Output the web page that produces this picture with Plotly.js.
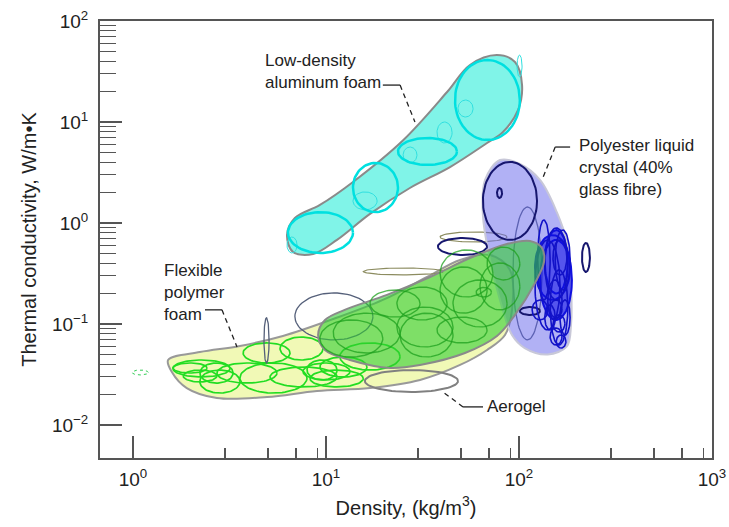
<!DOCTYPE html>
<html><head><meta charset="utf-8">
<script src="https://cdn.plot.ly/plotly-3.0.1.min.js"></script>
<style>html,body{margin:0;padding:0;background:#fff}#chart{width:729px;height:527px}</style>
</head><body><div id="chart"></div>
<script>
// ---------- Envelopes (density kg/m3, conductivity W/m.K) ----------
const alFoamEnvRho = [6.28, 6.9, 9.3, 13.8, 25.1, 42.4, 55.7, 76.9, 95.3, 103.7, 98.8, 82.6, 68.3, 43.9, 27.2, 16.9, 11.4, 8.57, 6.75];
const alFoamEnvK   = [0.76, 1.12, 1.51, 2.55, 6.6, 19.8, 36.7, 46, 39.3, 23.2, 13.1, 7.96, 6.2, 3.58, 2.22, 1.23, 0.68, 0.493, 0.516];

const flexEnvRho = [1.52, 2.22, 3.58, 5.98, 10.9, 19.7, 33.4, 49.5, 70.8, 89.8, 92, 84.6, 68.3, 49.5, 30.7, 16.9, 8.98, 4.95, 2.72, 1.9, 1.59];
const flexEnvK   = [0.044, 0.0528, 0.0606, 0.076, 0.112, 0.173, 0.292, 0.43, 0.482, 0.343, 0.138, 0.0778, 0.0553, 0.0393, 0.0279, 0.0232, 0.0217, 0.0189, 0.0185, 0.0232, 0.0335];

const rigidEnvRho = [9.1, 9.88, 12.5, 20.7, 34.6, 55.7, 86.7, 114, 131.6, 134.8, 121, 95.3, 76.9, 52.5, 30.7, 21.5, 13.3, 9.88];
const rigidEnvK   = [0.0778, 0.1096, 0.138, 0.194, 0.292, 0.45, 0.62, 0.664, 0.565, 0.411, 0.255, 0.123, 0.076, 0.0516, 0.0393, 0.0367, 0.044, 0.0553];

const lcpEnvRho = [79.7, 101, 128.5, 157, 177, 186, 186, 177, 141, 107, 92, 79.7, 70.8, 65, 66.7];
const lcpEnvK   = [4.2, 3.84, 2.67, 1.28, 0.649, 0.243, 0.0977, 0.0600, 0.0500, 0.0578, 0.0778, 0.173, 0.43, 1.2, 2.67];

// ---------- Material bubbles: [rho min, rho max, k min, k max] ----------
const alBubRhoMin = [6.35, 13.8, 23.6, 46.6];
const alBubRhoMax = [13.8, 23.6, 47.7, 101];
const alBubKMin   = [0.505, 1.28, 3.75, 6.63];
const alBubKMax   = [1.28, 3.93, 6.95, 41.1];

const alThinRhoMin = [13.8, 25.1, 37.6, 48.3, 97.7, 6.28];
const alThinRhoMax = [18.4, 29.6, 45.0, 57.8, 103.7, 7.08];
const alThinKMin   = [1.35, 3.93, 6.2, 11.2, 27.9, 0.505];
const alThinKMax   = [2.03, 5.65, 10.0, 16.5, 46.0, 0.726];

const flexRhoMin = [1.61, 2.22, 2.72, 3.58, 3.72, 5.78, 5.13, 7.6, 8.26, 1.82, 2.22, 7.97, 1.61, 9.3, 11.8];
const flexRhoMax = [3.18, 3.3, 5.57, 7.97, 6.51, 9.65, 11.4, 13.3, 15.6, 2.72, 3.58, 11.4, 2.42, 16.3, 24.2];
const flexKMin   = [0.0299, 0.026, 0.026, 0.0207, 0.0411, 0.044, 0.0238, 0.0279, 0.0238, 0.0267, 0.0207, 0.0279, 0.0327, 0.0299, 0.035];
const flexKMax   = [0.044, 0.0411, 0.0411, 0.0411, 0.0649, 0.0743, 0.0375, 0.0411, 0.035, 0.035, 0.035, 0.044, 0.0411, 0.0471, 0.0649];

const rigidRhoMin = [9.3, 24.2, 23.3, 39, 45.5, 37.6, 62.8, 16.9, 23.3, 39, 10.9, 68.3, 60];
const rigidRhoMax = [19.7, 45.5, 42.4, 73.3, 86.7, 68.3, 101, 30.7, 45.5, 68.3, 24.2, 101, 72];
const rigidKMin   = [0.0471, 0.0471, 0.1096, 0.185, 0.0934, 0.0649, 0.138, 0.117, 0.0592, 0.128, 0.0516, 0.273, 0.185];
const rigidKMax   = [0.1096, 0.128, 0.232, 0.541, 0.273, 0.117, 0.402, 0.217, 0.147, 0.367, 0.128, 0.578, 0.23];

// polyester LCP grades (outlined)
const lcpRhoMin = [125, 136, 121, 145, 154, 145, 150, 145, 156, 136, 163, 117, 141, 150];
const lcpRhoMax = [145, 179, 163, 179, 184, 167, 173, 167, 175, 154, 184, 141, 167, 177];
const lcpKMin   = [0.173, 0.173, 0.0872, 0.0619, 0.217, 0.115, 0.0833, 0.0619, 0.0578, 0.0872, 0.0778, 0.1096, 0.1096, 0.306];
const lcpKMax   = [1.07, 0.892, 0.679, 0.343, 0.853, 0.173, 0.123, 0.0913, 0.0778, 0.154, 0.173, 0.173, 0.273, 0.679];
// densely overlapping LCP grades (filled core)
const lcpCoreRhoMin = [121, 136, 128.5];
const lcpCoreRhoMax = [184, 179, 188];
const lcpCoreKMin   = [0.173, 0.2, 0.1096];
const lcpCoreKMax   = [0.76, 0.85, 0.679];

// navy (dark) bubbles
const navyRhoMin = [65, 38.0, 76.9, 212, 101];
const navyRhoMax = [124, 68.3, 81.7, 233, 128.5];
const navyKMin   = [0.679, 0.482, 1.77, 0.327, 0.123];
const navyKMax   = [4.02, 0.71, 2.22, 0.634, 0.147];

// thin slate / olive bubbles
const slateRhoMin = [6.9, 4.77, 93];
const slateRhoMax = [17.5, 5.07, 131.6];
const slateKMin   = [0.0695, 0.0411, 0.0695];
const slateKMax   = [0.203, 0.115, 1.44];

const oliveRhoMin = [39, 15.6];
const oliveRhoMax = [86.7, 40.4];
const oliveKMin   = [0.649, 0.306];
const oliveKMax   = [0.815, 0.358];

const aerogelRho = [15.9, 48.3];
const aerogelK   = [0.0212, 0.035];

const lowFoamRho = [0.99, 1.2];
const lowFoamK   = [0.0313, 0.035];

// ---------- Labels and leaders ----------
const labelTexts = ['Low-density<br>aluminum foam', 'Flexible<br>polymer<br>foam', 'Polyester liquid<br>crystal (40%<br>glass fibre)', 'Aerogel'];
const labelRho = [4.72, 1.41, 200, 66.7];
const labelK   = [31.3, 0.207, 3.58, 0.0151];
const leaderSolidRho = [[19.7, 24.2], [2.36, 2.89], [184, 154], [65.1, 51.3]];
const leaderSolidK   = [[23.2, 23.2], [0.138, 0.138], [5.65, 5.65], [0.0151, 0.0151]];
const leaderDashRho  = [[24.2, 28.9], [2.89, 3.46], [154, 131.6], [51.3, 40.4]];
const leaderDashK    = [[23.2, 10.0], [0.138, 0.0592], [5.65, 2.67], [0.0151, 0.0212]];

const xTickVals = [1, 10, 100, 1000];
const xTickText = ['10<sup>0</sup>', '10<sup>1</sup>', '10<sup>2</sup>', '10<sup>3</sup>'];
const yTickVals = [0.01, 0.1, 1, 10, 100];
const yTickText = ['10<sup>\u22122</sup>', '10<sup>\u22121</sup>', '10<sup>0</sup>', '10<sup>1</sup>', '10<sup>2</sup>'];

// ---------- helpers ----------
function ellipsePts(x0, x1, y0, y1) {
  const lx0 = Math.log10(x0), lx1 = Math.log10(x1), ly0 = Math.log10(y0), ly1 = Math.log10(y1);
  const cx = (lx0 + lx1) / 2, ax = (lx1 - lx0) / 2, cy = (ly0 + ly1) / 2, ay = (ly1 - ly0) / 2;
  const xs = [], ys = [];
  const N = 72;
  for (let i = 0; i <= N; i++) {
    const t = 2 * Math.PI * i / N;
    xs.push(Math.pow(10, cx + ax * Math.cos(t)));
    ys.push(Math.pow(10, cy + ay * Math.sin(t)));
  }
  return [xs, ys];
}
function bubbleTrace(x0s, x1s, y0s, y1s, color, width, fillcolor, dash) {
  let X = [], Y = [];
  for (let i = 0; i < x0s.length; i++) {
    const [xs, ys] = ellipsePts(x0s[i], x1s[i], y0s[i], y1s[i]);
    X = X.concat(xs, [null]); Y = Y.concat(ys, [null]);
  }
  const tr = {x: X, y: Y, type: 'scatter', mode: 'lines', hoverinfo: 'skip',
    line: {color: color, width: width, dash: dash || 'solid'}};
  if (fillcolor) { tr.fill = 'toself'; tr.fillcolor = fillcolor; }
  return tr;
}
function envTrace(xs, ys, fillcolor, linecolor) {
  return {x: xs.concat([xs[0]]), y: ys.concat([ys[0]]), type: 'scatter', mode: 'lines', hoverinfo: 'skip',
    fill: 'toself', fillcolor: fillcolor, line: {color: linecolor, width: 2, shape: 'spline', smoothing: 1}};
}

const traces = [];
traces.push(envTrace(alFoamEnvRho, alFoamEnvK, '#80f4e8', '#8a8a8a'));
traces.push(bubbleTrace(alThinRhoMin, alThinRhoMax, alThinKMin, alThinKMax, '#30e0e0', 1));
traces.push(bubbleTrace(alBubRhoMin, alBubRhoMax, alBubKMin, alBubKMax, '#00e0e0', 2.5));

traces.push(envTrace(flexEnvRho, flexEnvK, '#f1f9b6', '#999999'));
traces.push(bubbleTrace(flexRhoMin, flexRhoMax, flexKMin, flexKMax, '#22dd22', 1.7));
traces.push(bubbleTrace(lowFoamRho.slice(0,1), lowFoamRho.slice(1), lowFoamK.slice(0,1), lowFoamK.slice(1), '#33cc55', 1, null, 'dot'));

traces.push(bubbleTrace(oliveRhoMin, oliveRhoMax, oliveKMin, oliveKMax, '#8c8c60', 1.2));
traces.push(bubbleTrace(slateRhoMin, slateRhoMax, slateKMin, slateKMax, '#55607a', 1.3));

traces.push(envTrace(lcpEnvRho, lcpEnvK, 'rgba(100,100,235,0.5)', '#c8c8d8'));
traces.push(bubbleTrace(navyRhoMin, navyRhoMax, navyKMin, navyKMax, '#16166e', 2));
traces.push(bubbleTrace(lcpCoreRhoMin, lcpCoreRhoMax, lcpCoreKMin, lcpCoreKMax, '#1010e0', 2, 'rgba(10,10,230,0.55)'));
traces.push(bubbleTrace(lcpRhoMin, lcpRhoMax, lcpKMin, lcpKMax, '#1212c8', 1.6));

traces.push(envTrace(rigidEnvRho, rigidEnvK, 'rgba(50,205,50,0.6)', '#8a8a8a'));
traces.push(bubbleTrace(rigidRhoMin, rigidRhoMax, rigidKMin, rigidKMax, 'rgba(30,160,30,0.75)', 1.4));

traces.push(bubbleTrace([aerogelRho[0]], [aerogelRho[1]], [aerogelK[0]], [aerogelK[1]], '#808080', 2));

for (let i = 0; i < leaderSolidRho.length; i++) {
  traces.push({x: leaderSolidRho[i], y: leaderSolidK[i], type: 'scatter', mode: 'lines', hoverinfo: 'skip', line: {color: '#222', width: 1.3}});
  traces.push({x: leaderDashRho[i], y: leaderDashK[i], type: 'scatter', mode: 'lines', hoverinfo: 'skip', line: {color: '#222', width: 1.3, dash: '5px,4px'}});
}

// minor ticks
const decadesX = [1, 10, 100];
const xMinorOdd = [], xMinorEven = [];
decadesX.forEach(d => { for (let m = 2; m <= 9; m++) { (m % 2 ? xMinorOdd : xMinorEven).push(m * d); } });
const yMinor = [];
[0.01, 0.1, 1, 10].forEach(d => { for (let m = 2; m <= 9; m++) yMinor.push(m * d); });

const xRange = [-0.171, 3.0];
const axColor = '#555555';
const font = 'Liberation Sans, Arial, sans-serif';

const annotations = labelTexts.map((t, i) => ({
  text: t, x: Math.log10(labelRho[i]), y: Math.log10(labelK[i]), xref: 'x', yref: 'y',
  xanchor: 'left', yanchor: 'middle', align: 'left', showarrow: false,
  font: {family: font, size: 17, color: '#222'}
}));

const layout = {
  width: 729, height: 527,
  margin: {l: 100, r: 17, t: 21, b: 69},
  paper_bgcolor: '#fff', plot_bgcolor: '#fff',
  showlegend: false, hovermode: false,
  font: {family: font, color: '#222'},
  xaxis: {
    type: 'log', range: xRange, autorange: false,
    tickvals: xTickVals, ticktext: xTickText,
    ticks: 'inside', ticklen: 22, tickwidth: 1.5, tickcolor: axColor,
    showline: true, linecolor: axColor, linewidth: 2, mirror: true,
    showgrid: false, zeroline: false,
    tickfont: {size: 19, color: '#222'}, ticklabelstandoff: 3,
    minor: {tickvals: xMinorOdd, ticks: 'inside', ticklen: 10, tickwidth: 1.3, tickcolor: axColor, showgrid: false},
    title: {text: 'Density, (kg/m<sup>3</sup>)', font: {size: 20, color: '#222'}, standoff: 12}
  },
  xaxis2: {
    type: 'log', range: xRange, autorange: false, overlaying: 'x', anchor: 'y', side: 'bottom',
    tickvals: xMinorEven, ticks: 'inside', ticklen: 17, tickwidth: 1.3, tickcolor: axColor,
    showticklabels: false, showgrid: false, zeroline: false, showline: false
  },
  yaxis: {
    type: 'log', range: [-2.327, 2.0], autorange: false,
    tickvals: yTickVals, ticktext: yTickText,
    ticks: 'inside', ticklen: 22, tickwidth: 1.5, tickcolor: axColor,
    showline: true, linecolor: axColor, linewidth: 2, mirror: true,
    showgrid: false, zeroline: false,
    tickfont: {size: 19, color: '#222'}, ticklabelstandoff: 6,
    minor: {tickvals: yMinor, ticks: 'inside', ticklen: 16, tickwidth: 1.3, tickcolor: axColor, showgrid: false},
    title: {text: 'Thermal conductivity, W/m\u2022K', font: {size: 20, color: '#222'}, standoff: 10}
  },
  annotations: annotations
};

Plotly.newPlot('chart', traces, layout, {staticPlot: true, displayModeBar: false});
</script>
</body></html>
